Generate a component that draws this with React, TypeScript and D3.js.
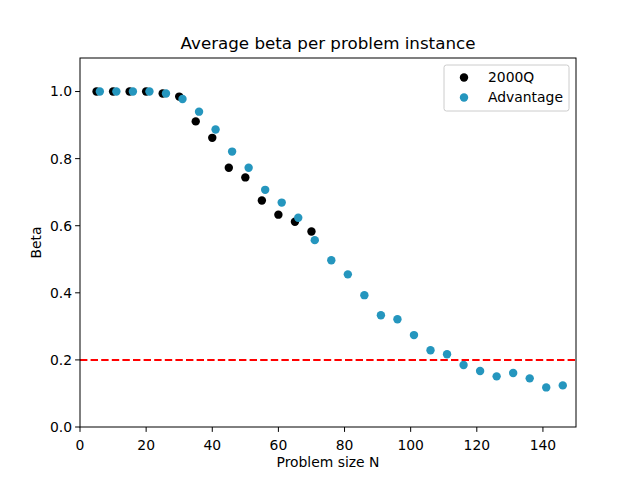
import * as d3 from 'd3'

const W = 640
const H = 480
const LEFT = 80
const RIGHT = 576
const TOP = 58
const BOTTOM = 427

const nQ2000 = [5, 10, 15, 20, 25, 30, 35, 40, 45, 50, 55, 60, 65, 70]
const betaQ2000 = [1.0, 1.0, 1.0, 1.0, 0.994, 0.985, 0.911, 0.862, 0.773, 0.744, 0.675, 0.633, 0.612, 0.583]

const nAdv = [
  6, 11, 16, 21, 26, 31, 36, 41, 46, 51, 56, 61, 66, 71, 76, 81, 86, 91, 96, 101, 106, 111, 116, 121, 126,
  131, 136, 141, 146,
]
const betaAdv = [
  1.0, 1.0, 1.0, 1.0, 0.994, 0.978, 0.94, 0.887, 0.821, 0.773, 0.707, 0.669, 0.624, 0.557, 0.497, 0.455,
  0.393, 0.333, 0.321, 0.274, 0.229, 0.217, 0.185, 0.167, 0.151, 0.161, 0.145, 0.118, 0.124,
]

const xTicks = [0, 20, 40, 60, 80, 100, 120, 140]
const yTicks = [0.0, 0.2, 0.4, 0.6, 0.8, 1.0]
const threshold = 0.2

const BLACK = '#000000'
const BLUE = '#2596be'
const FONT = 'DejaVu Sans, sans-serif'

export default function App() {
  const x = d3.scaleLinear([0, 150], [LEFT, RIGHT])
  const y = d3.scaleLinear([0, 1.1], [BOTTOM, TOP])
  const r = 4.2

  return (
    <svg width={W} height={H} style={{ position: 'absolute', left: 0, top: 0 }} fontFamily={FONT}>
      <rect width={W} height={H} fill="#fff" />
      <text x={(LEFT + RIGHT) / 2} y={49} textAnchor="middle" fontSize={16.7}>
        Average beta per problem instance
      </text>

      {nQ2000.map((n, i) => (
        <circle key={'q' + i} cx={x(n)} cy={y(betaQ2000[i])} r={r} fill={BLACK} />
      ))}
      {nAdv.map((n, i) => (
        <circle key={'a' + i} cx={x(n)} cy={y(betaAdv[i])} r={r} fill={BLUE} />
      ))}

      <line
        x1={LEFT}
        x2={RIGHT}
        y1={y(threshold)}
        y2={y(threshold)}
        stroke="red"
        strokeWidth={2}
        strokeDasharray="7.4,3.2"
      />

      <rect x={LEFT} y={TOP} width={RIGHT - LEFT} height={BOTTOM - TOP} fill="none" stroke="#000" strokeWidth={1} />

      {xTicks.map((t) => (
        <g key={'x' + t} transform={`translate(${x(t)},${BOTTOM})`}>
          <line y2={4.9} stroke="#000" />
          <text y={19} textAnchor="middle" fontSize={13.9} dy="0.3em">
            {t}
          </text>
        </g>
      ))}
      {yTicks.map((t) => (
        <g key={'y' + t} transform={`translate(${LEFT},${y(t)})`}>
          <line x2={-4.9} stroke="#000" />
          <text x={-8} textAnchor="end" fontSize={13.9} dy="0.35em">
            {t.toFixed(1)}
          </text>
        </g>
      ))}

      <text x={(LEFT + RIGHT) / 2} y={467} textAnchor="middle" fontSize={13.9}>
        Problem size N
      </text>
      <text transform={`translate(41,${(TOP + BOTTOM) / 2}) rotate(-90)`} textAnchor="middle" fontSize={13.9}>
        Beta
      </text>

      <g transform="translate(444,65)">
        <rect width={125} height={46} rx={2.5} fill="#fff" fillOpacity={0.8} stroke="#cccccc" />
        <circle cx={20} cy={12.5} r={r} fill={BLACK} />
        <text x={44} y={12.5} dy="0.35em" fontSize={13.9}>
          2000Q
        </text>
        <circle cx={20} cy={32.5} r={r} fill={BLUE} />
        <text x={44} y={32.5} dy="0.35em" fontSize={13.9}>
          Advantage
        </text>
      </g>
    </svg>
  )
}
